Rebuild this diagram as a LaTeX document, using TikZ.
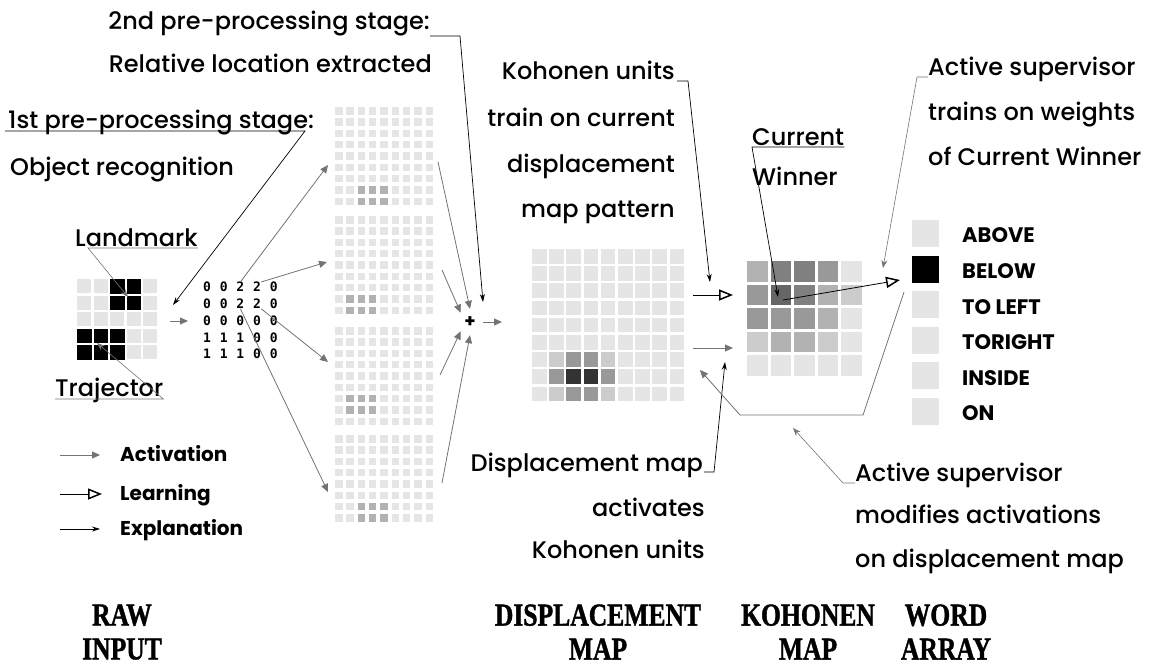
\documentclass[tikz,border=0pt]{standalone}
\usepackage{fontspec}
\setmainfont{Poppins}[UprightFont=* Medium, BoldFont=* Bold]
\newfontfamily\numfont{DejaVu Sans Mono}
\newfontfamily\capfont{Liberation Serif}[FakeStretch=0.8, FakeBold=1.2]
\usetikzlibrary{arrows.meta}

\definecolor{celloff}{gray}{0.9}

\tikzset{
  note/.style={font=\fontsize{24}{24}\selectfont, inner sep=0pt},
  legendtxt/.style={font=\fontsize{20}{20}\selectfont\bfseries, inner sep=0pt, anchor=base west},
  wordtxt/.style={font=\fontsize{21}{21}\selectfont\bfseries, inner sep=0pt, anchor=west},
  digit/.style={font=\numfont\bfseries\fontsize{13}{13}\selectfont, inner sep=0pt},
  layertxt/.style={font=\capfont\bfseries\fontsize{32}{34}\selectfont, align=center, inner sep=0pt},
  act/.style={draw=black!55, line width=0.8pt, -{Triangle[length=8pt,width=7pt]}},
  learn/.style={draw=black, line width=0.8pt, -{Triangle[open,length=14pt,width=11pt,line width=1.5pt]}},
  expl/.style={draw=black, line width=0.7pt, -{Stealth[length=8pt,width=5pt]}},
  tag/.style={draw=black!55, line width=0.6pt, -{Stealth[length=8pt,width=6pt]}},
}

\begin{document}
\begin{tikzpicture}[x=1pt,y=-1pt]
  \useasboundingbox (0,0) rectangle (1162,669);

  % raw input
  \foreach \r in {0,...,4}
    \foreach \c in {0,...,4}
      \fill[celloff] (77+16.5*\c,279+16.5*\r) rectangle ++(14,14);
  \foreach \c/\r in {2/0,3/0,2/1,3/1,0/3,1/3,2/3,0/4,1/4,2/4}
    \fill[black] (77+16.5*\c,279+16.5*\r) rectangle ++(14.5,14.5);

  \node[note, anchor=base west] (landmark) at (75,246) {Landmark};
  \node[note, anchor=base west] (trajector) at (55,396) {Trajector};
  \coordinate (lmCell) at (128,297);
  \coordinate (trCell) at (97,343);
  \draw[tag] ([yshift=-2pt]landmark.base east) -- ([xshift=13pt,yshift=-2pt]landmark.base west) -- (lmCell);
  \draw[tag] ([yshift=-3pt]trajector.base west) -- ([yshift=-3pt]trajector.base east) -- (trCell);

  % relative location
  \foreach \row [count=\r from 0] in {{0,0,2,2,0},{0,0,2,2,0},{0,0,0,0,0},{1,1,1,0,0},{1,1,1,0,0}}
    \foreach \v [count=\c from 0] in \row
      \node[digit] (n\r\c) at (207+16.7*\c,287+16.8*\r) {\v};
  \coordinate (rawOut) at (170,321);
  \coordinate (numIn) at (188,321);
  \draw[act] (rawOut) -- (numIn);

  % four displacement maps
  \foreach \my/\rows in {107/9,216/9,327/9,435/8}
    \foreach \r in {1,...,\rows}
      \foreach \c in {0,...,8}
        \fill[celloff] (335+11.33*\c,\my+11.33*\r-11.33) rectangle ++(7.5,7.5);
  \foreach \my/\mc/\mr in {107/2/7,216/1/7,327/1/6,435/2/6}
    \foreach \r in {0,1}
      \foreach \c in {0,1,2}
        \fill[black!30] (335+11.33*\mc+11.33*\c,\my+11.33*\mr+11.33*\r) rectangle ++(7.5,7.5);

  \coordinate (mapAin) at (328,165);
  \coordinate (mapBin) at (327,262);
  \coordinate (mapCin) at (328,362);
  \coordinate (mapDin) at (328,492);
  \coordinate (mapAout) at (438,162);
  \coordinate (mapBout) at (442,270);
  \coordinate (mapCout) at (440,375);
  \coordinate (mapDout) at (442,483);
  \draw[act] (n02.north) -- (mapAin);
  \draw[act] (n03.north east) -- (mapBin);
  \draw[act] (n13.south east) -- (mapCin);
  \draw[act] (n12.south) -- (mapDin);

  \node[circle, minimum size=26pt, inner sep=0pt, font=\fontsize{18}{18}\selectfont\bfseries] (plus) at (470,322) {+};
  \draw[act] (mapAout) -- (plus.north);
  \draw[act] (mapBout) -- (plus.north west);
  \draw[act] (mapCout) -- (plus.south west);
  \draw[act] (mapDout) -- (plus.south);
  \coordinate (dispIn) at (502,322);
  \draw[act] (plus.east) -- (dispIn);

  % pre-processing notes
  \node[note, anchor=base east] (stage2) at (430,30) {2nd pre-processing stage:};
  \node[note, anchor=base east] (relloc) at (432,73) {Relative location extracted};
  \node[note, anchor=base west] (stage1) at (8,128) {1st pre-processing stage:};
  \node[note, anchor=base west] (objrec) at (10,175) {Object recognition};
  \coordinate (plusTag) at (483,302);
  \coordinate (s1knee) at (305,131);
  \coordinate (numTag) at (173,305);
  \draw[expl] ([yshift=-6pt]stage2.base east) -- ++(30,0) -- (plusTag);
  \draw[expl] ([xshift=-3pt,yshift=-3pt]stage1.base west) -- (s1knee) -- (numTag);

  % displacement map
  \foreach \r in {0,...,8}
    \foreach \c in {0,...,8}
      \fill[celloff] (532+17.2*\c,249+17.2*\r) rectangle ++(14.5,14.5);
  \foreach \c/\r/\v in {1/6/20,2/6/40,3/6/40,4/6/20,1/7/40,2/7/80,3/7/80,4/7/40,1/8/20,2/8/40,3/8/40,4/8/20}
    \fill[black!\v] (532+17.2*\c,249+17.2*\r) rectangle ++(14.5,14.5);

  \coordinate (dispOutL) at (693,295);
  \coordinate (kohInL) at (733,295);
  \coordinate (dispOutA) at (693,348);
  \coordinate (kohInA) at (733,348);
  \draw[learn] (dispOutL) -- (kohInL);
  \draw[act] (dispOutA) -- (kohInA);

  \node[note, anchor=base east] (kohA) at (675,80) {Kohonen units};
  \node[note, anchor=base east] (kohB) at (675,126) {train on current};
  \node[note, anchor=base east] (kohC) at (675,172) {displacement};
  \node[note, anchor=base east] (kohD) at (675,217) {map pattern};
  \coordinate (kohTag) at (710,282);
  \draw[expl] ([xshift=2pt,yshift=-1pt]kohA.base east) -- ++(11,0) -- (kohTag);

  \node[note, anchor=base east] (actA) at (703,471) {Displacement map};
  \node[note, anchor=base east] (actB) at (705,516) {activates};
  \node[note, anchor=base east] (actC) at (705,558) {Kohonen units};
  \coordinate (actTag) at (725,362);
  \draw[expl] ([xshift=1pt,yshift=-1pt]actA.base east) -- ++(10,0) -- (actTag);

  % kohonen map
  \foreach \row [count=\r from 0] in {{30,50,50,40,10},{40,60,50,30,20},{40,40,40,30,10},{20,30,30,20,10},{10,10,10,10,10}}
    \foreach \v [count=\c from 0] in \row
      \fill[black!\v] (747+23.5*\c,261+23.5*\r) rectangle ++(20.5,20.5);

  \node[note, anchor=base west] (current) at (752,145) {Current};
  \node[note, anchor=base west] (winner) at (752,185) {Winner};
  \coordinate (winTag) at (778,297);
  \coordinate (winCell) at (783,300);
  \coordinate (wordIn) at (900,280);
  \draw[expl] ([yshift=-2pt]current.base east) -- ([yshift=-2pt]current.base west) -- (winTag);
  \draw[learn] (winCell) -- (wordIn);

  % word array
  \foreach \w [count=\i from 0] in {ABOVE,BELOW,TO LEFT,TORIGHT,INSIDE,ON} {
    \fill[celloff] (912,220+35.6*\i) rectangle ++(27,27);
    \node[wordtxt] (w\i) at (962,235.5+35.6*\i) {\w};
  }
  \fill[black] (912,255.6) rectangle ++(27,27);

  \node[note, anchor=base west] (supA) at (928,75) {Active supervisor};
  \node[note, anchor=base west] (supB) at (928,120) {trains on weights};
  \node[note, anchor=base west] (supC) at (928,165) {of Current Winner};
  \coordinate (supTag) at (883,268);
  \draw[tag] ([yshift=-2pt]supA.base west) -- ++(-11,0) -- (supTag);

  \coordinate (supOut) at (904,292);
  \coordinate (supK1) at (863,415);
  \coordinate (supK2) at (740,415);
  \coordinate (dispTag) at (700,370);
  \draw[act] (supOut) -- (supK1) -- (supK2) -- (dispTag);

  \node[note, anchor=base west] (modA) at (855,481) {Active supervisor};
  \node[note, anchor=base west] (modB) at (855,523) {modifies activations};
  \node[note, anchor=base west] (modC) at (855,567) {on displacement map};
  \coordinate (modTag) at (793,428);
  \draw[tag] ([yshift=-2pt]modA.base west) -- ++(-12,0) -- (modTag);

  % legend
  \node[legendtxt] (lgAct) at (120,461) {Activation};
  \node[legendtxt] (lgLearn) at (120,500) {Learning};
  \node[legendtxt] (lgExpl) at (120,535) {Explanation};
  \draw[act] ([xshift=-60pt,yshift=6pt]lgAct.base west) -- ([xshift=-20pt,yshift=6pt]lgAct.base west);
  \draw[learn] ([xshift=-60pt,yshift=6pt]lgLearn.base west) -- ([xshift=-18pt,yshift=6pt]lgLearn.base west);
  \draw[expl] ([xshift=-60pt,yshift=6pt]lgExpl.base west) -- ([xshift=-20pt,yshift=6pt]lgExpl.base west);

  % layer names
  \node[layertxt] (lbRaw) at (122,632) {RAW\\INPUT};
  \node[layertxt] (lbDisp) at (598,632) {DISPLACEMENT\\MAP};
  \node[layertxt] (lbKoh) at (808,632) {KOHONEN\\MAP};
  \node[layertxt] (lbWord) at (946,632) {WORD\\ARRAY};
\end{tikzpicture}
\end{document}
